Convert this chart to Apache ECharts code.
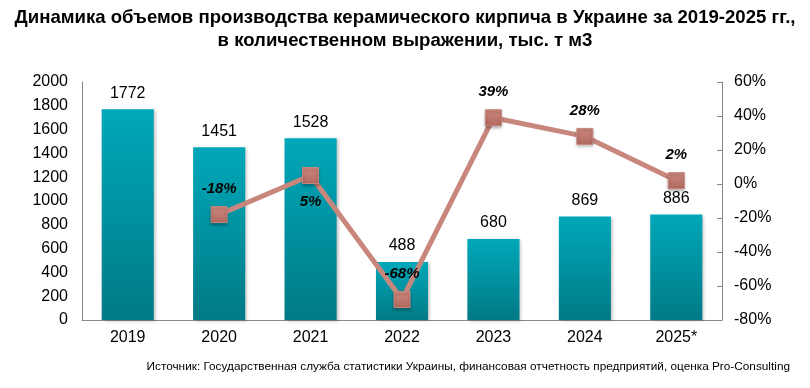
<!DOCTYPE html>
<html><head><meta charset="utf-8">
<script src="https://cdn.jsdelivr.net/npm/echarts@6/dist/echarts.min.js"></script>
<style>html,body{margin:0;padding:0;background:#fff}#c{width:810px;height:388px}</style>
</head><body><div id="c"></div>
<script>
const categories = ['2019','2020','2021','2022','2023','2024','2025*'];
const volumes = [1772, 1451, 1528, 488, 680, 869, 886];
const growth = [null, -18, 5, -68, 39, 28, 2];
const growthLabelPos = ['top','top','bottom','top','top','top','top'];
const titleText = 'Динамика объемов производства керамического кирпича в Украине за 2019-2025 гг.,\nв количественном выражении, тыс. т м3';
const sourceText = 'Источник: Государственная служба статистики Украины, финансовая отчетность предприятий, оценка Pro-Consulting';

const chart = echarts.init(document.getElementById('c'));
chart.setOption({
  animation: false,
  title: {
    text: titleText, left: 'center', top: 1,
    textStyle: {fontFamily: 'Liberation Sans', fontWeight: 'bold', fontSize: 18.6, lineHeight: 23, color: '#000'}
  },
  graphic: [{
    type: 'text', right: 20, top: 361,
    style: {text: sourceText, font: '11.8px "Liberation Sans"', fill: '#000'}
  }],
  grid: {left: 82, right: 88, top: 82, bottom: 68},
  xAxis: {
    type: 'category', data: categories,
    axisLine: {lineStyle: {color: '#888'}},
    axisTick: {show: false},
    axisLabel: {fontFamily: 'Liberation Sans', fontSize: 16, color: '#000', margin: 10}
  },
  yAxis: [{
    type: 'value', min: 0, max: 2000, interval: 200,
    axisLine: {show: true, lineStyle: {color: '#888'}},
    axisTick: {show: false}, splitLine: {show: false},
    axisLabel: {fontFamily: 'Liberation Sans', fontSize: 16, color: '#000', margin: 14, formatter: v => String(v)}
  }, {
    type: 'value', min: -80, max: 60, interval: 20, position: 'right',
    axisLine: {show: true, lineStyle: {color: '#888'}},
    axisTick: {show: true, inside: true, length: 5, lineStyle: {color: '#888'}},
    splitLine: {show: false},
    axisLabel: {fontFamily: 'Liberation Sans', fontSize: 16, color: '#000', margin: 12, formatter: '{value}%'}
  }],
  series: [{
    type: 'bar', data: volumes, barWidth: '57%',
    itemStyle: {
      color: new echarts.graphic.LinearGradient(0,0,0,1,[{offset:0,color:'#00a8b9'},{offset:1,color:'#007a86'}]),
      shadowColor: 'rgba(0,0,0,0.25)', shadowBlur: 3, shadowOffsetX: 2, shadowOffsetY: 1
    },
    label: {show: true, position: 'top', distance: 8, fontFamily: 'Liberation Sans', fontSize: 16, color: '#000'}
  }, {
    type: 'line', yAxisIndex: 1,
    data: growth.map((v,i) => ({value: v, label: {position: growthLabelPos[i]}})),
    lineStyle: {color: '#c8877d', width: 5},
    symbol: 'rect', symbolSize: 16,
    itemStyle: {
      color: new echarts.graphic.LinearGradient(0,0,0,1,[{offset:0,color:'#d08a80'},{offset:1,color:'#b0675e'}]),
      borderColor: '#c8877d', borderWidth: 1,
      shadowColor: 'rgba(0,0,0,0.3)', shadowBlur: 3, shadowOffsetY: 2
    },
    label: {show: true, distance: 10, fontFamily: 'Liberation Sans', fontSize: 15, fontWeight: 'bold', fontStyle: 'italic', color: '#000', formatter: p => p.value + '%'},
    z: 5
  }]
});
</script></body></html>
